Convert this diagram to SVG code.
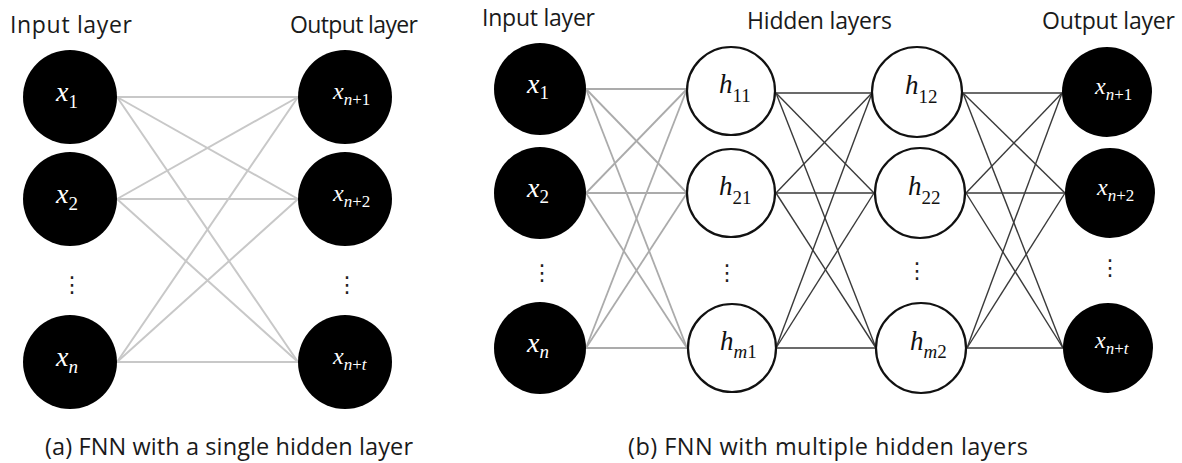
<svg xmlns="http://www.w3.org/2000/svg" width="1182" height="463" viewBox="0 0 1182 463">
  <style>
    .title { font-family: "Open Sans", "Noto Sans", sans-serif; font-size: 23px; fill: #1a1a1a; }
    .caption { font-family: "Open Sans", "Noto Sans", sans-serif; font-size: 23.5px; fill: #1a1a1a; }
    .dark { fill: #000; }
    .hid { fill: #fff; stroke: #111; stroke-width: 2.2; }
    .lab { font-family: "Liberation Serif", "DejaVu Serif", serif; font-style: italic; }
    .xin { font-size: 28px; }
    .xout { font-size: 24px; }
    .hl { font-size: 27px; }
    .wl { fill: #fff; }
    .bl { fill: #111; }
    .s1 { font-size: 19px; }
    .s2 { font-size: 17px; }
    .s3 { font-size: 19px; }
    .up { font-style: normal; }
    .dots { font-family: "DejaVu Sans", sans-serif; font-size: 22px; fill: #222; text-anchor: middle; }
    .ga line { stroke: #c8c8c8; stroke-width: 2; }
    .gb line { stroke: #ababab; stroke-width: 1.8; }
    .kb line { stroke: #3a3a3a; stroke-width: 1.4; }
  </style>

  <!-- panel (a): single hidden layer -->
  <g id="connectors-a" class="ga">
    <line x1="117" y1="97" x2="298" y2="97"/>
    <line x1="117" y1="97" x2="298" y2="199"/>
    <line x1="117" y1="97" x2="298" y2="362"/>
    <line x1="117" y1="199" x2="298" y2="97"/>
    <line x1="117" y1="199" x2="298" y2="199"/>
    <line x1="117" y1="199" x2="298" y2="362"/>
    <line x1="117" y1="362" x2="298" y2="97"/>
    <line x1="117" y1="362" x2="298" y2="199"/>
    <line x1="117" y1="362" x2="298" y2="362"/>
  </g>

  <text class="title" x="10" y="33" textLength="122">Input layer</text>
  <text class="title" x="290" y="33" textLength="128">Output layer</text>

  <g id="a-x1"><circle class="dark" cx="70" cy="97" r="47"/>
    <text class="lab xin wl" x="56" y="101">x<tspan class="s1 up" dy="7">1</tspan></text></g>
  <g id="a-x2"><circle class="dark" cx="70" cy="199" r="47"/>
    <text class="lab xin wl" x="56" y="203">x<tspan class="s1 up" dy="7">2</tspan></text></g>
  <g id="a-xn"><circle class="dark" cx="70" cy="362" r="47"/>
    <text class="lab xin wl" x="56" y="366">x<tspan class="s1" dy="7">n</tspan></text></g>
  <text class="dots" x="72" y="292">⋮</text>

  <g id="a-o1"><circle class="dark" cx="345" cy="97" r="47"/>
    <text class="lab xout wl" x="333" y="99">x<tspan class="s2" dy="6">n</tspan><tspan class="s2 up">+1</tspan></text></g>
  <g id="a-o2"><circle class="dark" cx="345" cy="199" r="47"/>
    <text class="lab xout wl" x="333" y="201">x<tspan class="s2" dy="6">n</tspan><tspan class="s2 up">+2</tspan></text></g>
  <g id="a-ot"><circle class="dark" cx="345" cy="362" r="47"/>
    <text class="lab xout wl" x="333" y="364">x<tspan class="s2" dy="6">n</tspan><tspan class="s2 up">+</tspan><tspan class="s2">t</tspan></text></g>
  <text class="dots" x="347" y="292">⋮</text>

  <text class="caption" x="45" y="455" textLength="368">(a) FNN with a single hidden layer</text>

  <!-- panel (b): multiple hidden layers -->
  <g id="connectors-b">
    <g class="gb">
      <line x1="586" y1="89" x2="687" y2="89"/>
      <line x1="586" y1="89" x2="687" y2="193"/>
      <line x1="586" y1="89" x2="687" y2="348"/>
      <line x1="586" y1="193" x2="687" y2="89"/>
      <line x1="586" y1="193" x2="687" y2="193"/>
      <line x1="586" y1="193" x2="687" y2="348"/>
      <line x1="586" y1="348" x2="687" y2="89"/>
      <line x1="586" y1="348" x2="687" y2="193"/>
      <line x1="586" y1="348" x2="687" y2="348"/>
    </g>
    <g class="kb">
      <line x1="776" y1="93" x2="872" y2="93"/>
      <line x1="776" y1="93" x2="874" y2="193"/>
      <line x1="776" y1="93" x2="876" y2="348"/>
      <line x1="776" y1="193" x2="872" y2="93"/>
      <line x1="776" y1="193" x2="874" y2="193"/>
      <line x1="776" y1="193" x2="876" y2="348"/>
      <line x1="776" y1="348" x2="872" y2="93"/>
      <line x1="776" y1="348" x2="874" y2="193"/>
      <line x1="776" y1="348" x2="876" y2="348"/>
      <line x1="963" y1="93" x2="1062" y2="93"/>
      <line x1="963" y1="93" x2="1065" y2="193"/>
      <line x1="963" y1="93" x2="1063" y2="348"/>
      <line x1="966" y1="193" x2="1062" y2="93"/>
      <line x1="966" y1="193" x2="1065" y2="193"/>
      <line x1="966" y1="193" x2="1063" y2="348"/>
      <line x1="967" y1="348" x2="1062" y2="93"/>
      <line x1="967" y1="348" x2="1065" y2="193"/>
      <line x1="967" y1="348" x2="1063" y2="348"/>
    </g>
  </g>

  <text class="title" x="482" y="26" textLength="113">Input layer</text>
  <text class="title" x="747" y="29" textLength="145">Hidden layers</text>
  <text class="title" x="1042" y="29" textLength="133">Output layer</text>

  <g id="b-x1"><circle class="dark" cx="540" cy="89" r="46"/>
    <text class="lab xin wl" x="527" y="93">x<tspan class="s1 up" dy="6">1</tspan></text></g>
  <g id="b-x2"><circle class="dark" cx="540" cy="193" r="46"/>
    <text class="lab xin wl" x="527" y="197">x<tspan class="s1 up" dy="6">2</tspan></text></g>
  <g id="b-xn"><circle class="dark" cx="540" cy="348" r="46"/>
    <text class="lab xin wl" x="527" y="352">x<tspan class="s1" dy="6">n</tspan></text></g>
  <text class="dots" x="542" y="280">⋮</text>

  <g id="b-h11"><circle class="hid" cx="731" cy="91" r="44"/>
    <text class="lab hl bl" x="719" y="93">h<tspan class="s3 up" dy="9">11</tspan></text></g>
  <g id="b-h21"><circle class="hid" cx="731" cy="193" r="44"/>
    <text class="lab hl bl" x="719" y="195">h<tspan class="s3 up" dy="9">21</tspan></text></g>
  <g id="b-hm1"><circle class="hid" cx="732" cy="348" r="44"/>
    <text class="lab hl bl" x="720" y="350">h<tspan class="s3" dy="8">m</tspan><tspan class="s3 up">1</tspan></text></g>
  <text class="dots" x="727" y="280">⋮</text>

  <g id="b-h12"><circle class="hid" cx="917" cy="92" r="45"/>
    <text class="lab hl bl" x="905" y="94">h<tspan class="s3 up" dy="9">12</tspan></text></g>
  <g id="b-h22"><circle class="hid" cx="920" cy="193" r="45"/>
    <text class="lab hl bl" x="908" y="195">h<tspan class="s3 up" dy="9">22</tspan></text></g>
  <g id="b-hm2"><circle class="hid" cx="921" cy="348" r="45"/>
    <text class="lab hl bl" x="910" y="350">h<tspan class="s3" dy="8">m</tspan><tspan class="s3 up">2</tspan></text></g>
  <text class="dots" x="917" y="278">⋮</text>

  <g id="b-o1"><circle class="dark" cx="1107" cy="92" r="45"/>
    <text class="lab xout wl" x="1095" y="94">x<tspan class="s2" dy="6">n</tspan><tspan class="s2 up">+1</tspan></text></g>
  <g id="b-o2"><circle class="dark" cx="1110" cy="193" r="45"/>
    <text class="lab xout wl" x="1097" y="195">x<tspan class="s2" dy="6">n</tspan><tspan class="s2 up">+2</tspan></text></g>
  <g id="b-ot"><circle class="dark" cx="1108" cy="348" r="45"/>
    <text class="lab xout wl" x="1095" y="348">x<tspan class="s2" dy="6">n</tspan><tspan class="s2 up">+</tspan><tspan class="s2">t</tspan></text></g>
  <text class="dots" x="1110" y="275">⋮</text>

  <text class="caption" x="628" y="455" textLength="400">(b) FNN with multiple hidden layers</text>
</svg>
